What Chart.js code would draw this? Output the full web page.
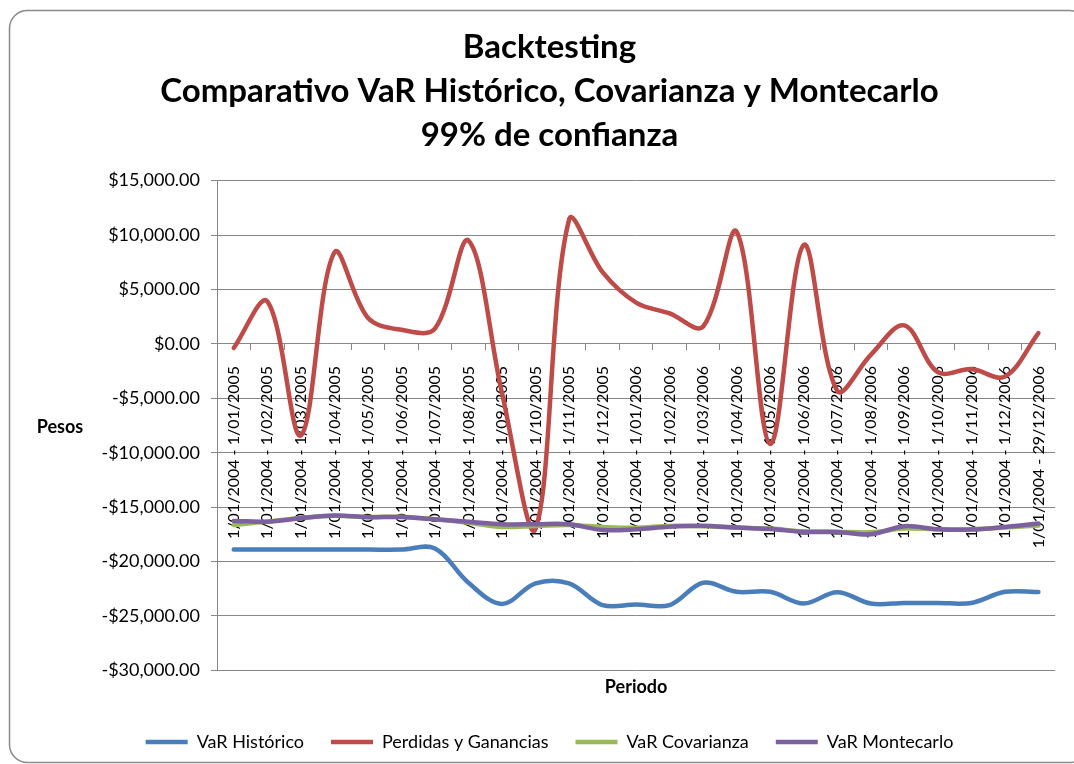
<!DOCTYPE html>
<html>
<head>
<meta charset="utf-8">
<script src="https://cdn.jsdelivr.net/npm/chart.js@4.4.1/dist/chart.umd.min.js"></script>
<style>
html,body{margin:0;padding:0;background:#ffffff;}
#wrap{width:1074px;height:764px;}
</style>
</head>
<body>
<div id="wrap"><canvas id="c" width="1074" height="764"></canvas></div>
<script>
const categories = [
  "1/01/2004 - 1/01/2005", "1/01/2004 - 1/02/2005", "1/01/2004 - 1/03/2005", "1/01/2004 - 1/04/2005",
  "1/01/2004 - 1/05/2005", "1/01/2004 - 1/06/2005", "1/01/2004 - 1/07/2005", "1/01/2004 - 1/08/2005",
  "1/01/2004 - 1/09/2005", "1/01/2004 - 1/10/2005", "1/01/2004 - 1/11/2005", "1/01/2004 - 1/12/2005",
  "1/01/2004 - 1/01/2006", "1/01/2004 - 1/02/2006", "1/01/2004 - 1/03/2006", "1/01/2004 - 1/04/2006",
  "1/01/2004 - 1/05/2006", "1/01/2004 - 1/06/2006", "1/01/2004 - 1/07/2006", "1/01/2004 - 1/08/2006",
  "1/01/2004 - 1/09/2006", "1/01/2004 - 1/10/2006", "1/01/2004 - 1/11/2006", "1/01/2004 - 1/12/2006",
  "1/01/2004 - 29/12/2006"
];
const varHistorico = [-18900, -18900, -18900, -18900, -18900, -18900, -18800, -21950, -23900, -22000,
  -22000, -24000, -23950, -24000, -21950, -22780, -22780, -23860, -22810, -23860,
  -23800, -23800, -23800, -22780, -22800];
const perdidasGanancias = [-370, 3900, -8400, 8400, 2400, 1300, 1400, 9500, -4500, -17000,
  11400, 6600, 3800, 2800, 1600, 10300, -9200, 9100, -4300, -1000,
  1700, -2600, -2300, -3000, 1000];
const varCovarianza = [-16630, -16330, -15990, -15800, -15900, -15880, -16110, -16430, -16820, -16720,
  -16630, -16820, -16900, -16720, -16760, -16880, -16970, -17220, -17250, -17310,
  -16970, -17030, -17030, -16880, -16690];
const varMontecarlo = [-16270, -16330, -16020, -15770, -15920, -15900, -16110, -16330, -16570, -16570,
  -16570, -17100, -17030, -16790, -16700, -16880, -17000, -17280, -17280, -17490,
  -16750, -17030, -17060, -16820, -16510];
const yTicks = [15000, 10000, 5000, 0, -5000, -10000, -15000, -20000, -25000, -30000];
const seriesNames = ["VaR Histórico", "Perdidas y Ganancias", "VaR Covarianza", "VaR Montecarlo"];
const titleLines = ["Backtesting", "Comparativo VaR Histórico, Covarianza y Montecarlo", "99% de confianza"];

const FONT = "Lato, 'Liberation Sans', sans-serif";
const GRID = '#878787';

function fmtMoney(v) {
  const s = Math.abs(v).toLocaleString('en-US', {minimumFractionDigits: 2, maximumFractionDigits: 2});
  return (v < 0 ? '-$' : '$') + s;
}

const framePlugin = {
  id: 'frame',
  beforeDraw(chart) {
    const ctx = chart.ctx;
    ctx.save();
    ctx.fillStyle = '#ffffff';
    ctx.fillRect(0, 0, chart.width, chart.height);
    ctx.strokeStyle = '#8a8a8a';
    ctx.lineWidth = 1.5;
    ctx.beginPath();
    ctx.roundRect(9.5, 10.5, 1078, 752, 18);
    ctx.stroke();
    const ca = chart.chartArea;
    ctx.fillStyle = '#000000';
    ctx.font = 'bold 18px ' + FONT;
    ctx.textAlign = 'center';
    ctx.textBaseline = 'middle';
    ctx.fillText('Pesos', 60, (ca.top + ca.bottom) / 2 + 2);
    ctx.restore();
  }
};

function ds(label, data, color, order) {
  return {
    label: label, data: data, borderColor: color, backgroundColor: color,
    borderWidth: 4.5, pointRadius: 0, pointHoverRadius: 0, tension: 0.35,
    borderCapStyle: 'round', borderJoinStyle: 'round', fill: false, order: order
  };
}

new Chart(document.getElementById('c'), {
  type: 'line',
  data: {
    labels: categories,
    datasets: [
      ds(seriesNames[0], varHistorico, '#4A7EBB', 4),
      ds(seriesNames[1], perdidasGanancias, '#BE4B48', 3),
      ds(seriesNames[2], varCovarianza, '#98B954', 2),
      ds(seriesNames[3], varMontecarlo, '#7D60A0', 1)
    ]
  },
  options: {
    responsive: false,
    animation: false,
    devicePixelRatio: 1,
    layout: { padding: { left: 34, right: 9, top: 26, bottom: 3 } },
    plugins: {
      title: {
        display: true, text: titleLines, color: '#000000',
        font: { family: FONT, size: 33, weight: 'bold', lineHeight: 1.32 },
        padding: { top: 0, bottom: 24 }
      },
      legend: {
        position: 'bottom',
        labels: {
          usePointStyle: true, pointStyle: 'line', pointStyleWidth: 42,
          color: '#000000', font: { family: FONT, size: 18 }, padding: 27,
          sort: (a, b) => a.datasetIndex - b.datasetIndex
        }
      },
      tooltip: { enabled: false }
    },
    scales: {
      x: {
        type: 'category',
        position: { y: 0 },
        offset: true,
        grid: { offset: true, drawOnChartArea: false, drawTicks: true, tickLength: 6, color: GRID, lineWidth: 1 },
        border: { display: true, color: GRID, width: 1 },
        ticks: { autoSkip: false, minRotation: 90, maxRotation: 90, padding: 16, color: '#000000',
          font: { family: FONT, size: 16 } }
      },
      x2: {
        type: 'category',
        labels: categories,
        position: 'bottom',
        grid: { display: false, drawTicks: false },
        border: { display: false },
        ticks: { display: false },
        title: { display: true, text: 'Periodo', color: '#000000',
          font: { family: FONT, size: 18, weight: 'bold', lineHeight: 1.2 }, padding: { top: 6, bottom: 8 } }
      },
      y: {
        min: -30000, max: 15000,
        afterFit(scale) { scale.width = 183; },
        afterBuildTicks(scale) { scale.ticks = yTicks.map(v => ({ value: v })); },
        grid: { color: GRID, lineWidth: 1, drawTicks: true, tickLength: 6 },
        border: { display: true, color: GRID, width: 1 },
        ticks: { padding: 11, color: '#000000', font: { family: FONT, size: 18 },
          callback: (v) => fmtMoney(v) }
      }
    }
  },
  plugins: [framePlugin]
});
</script>
</body>
</html>
